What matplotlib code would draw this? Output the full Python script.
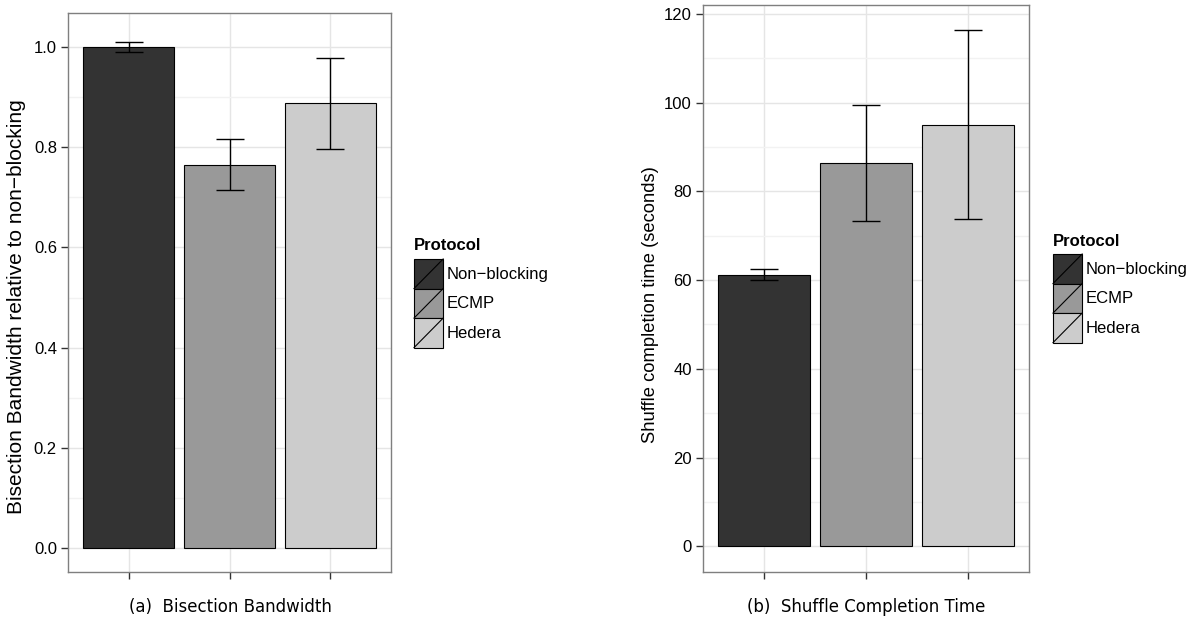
import matplotlib

matplotlib.use("Agg")
import matplotlib.pyplot as plt
from matplotlib.legend_handler import HandlerBase
from matplotlib.lines import Line2D
from matplotlib.patches import Rectangle
from matplotlib.ticker import MultipleLocator

protocols = ["Non\u2212blocking", "ECMP", "Hedera"]
colors = ["#333333", "#999999", "#cccccc"]

bisection_mean = [1.0, 0.765, 0.888]
bisection_err = [0.01, 0.051, 0.091]

shuffle_mean = [61.2, 86.4, 95.0]
shuffle_err = [1.2, 13.1, 21.3]

TICK_FONT = "Liberation Sans"
W, H = 1197, 644


class DiagonalKeyHandler(HandlerBase):
    # ggplot-style legend key: filled square with a diagonal stroke
    def create_artists(self, legend, orig_handle, xdescent, ydescent,
                       width, height, fontsize, trans):
        x0, y0 = -xdescent, -ydescent
        rect = Rectangle((x0, y0), width, height,
                         facecolor=orig_handle.get_facecolor(),
                         edgecolor="black", linewidth=0.8, transform=trans)
        line = Line2D([x0, x0 + width], [y0, y0 + height],
                      color="black", linewidth=0.8, transform=trans)
        return [rect, line]


def style_axes(ax, major, minor):
    ax.set_facecolor("white")
    for side in ax.spines.values():
        side.set_color("#7f7f7f")
        side.set_linewidth(1.0)
    ax.yaxis.set_major_locator(MultipleLocator(major))
    ax.yaxis.set_minor_locator(MultipleLocator(minor))
    ax.grid(which="major", color="#e5e5e5", linewidth=1.0)
    ax.grid(which="minor", axis="y", color="#f2f2f2", linewidth=1.0)
    ax.set_axisbelow(True)
    ax.tick_params(axis="y", which="minor", length=0)
    ax.tick_params(axis="both", which="major", length=5, width=1.0,
                   color="#333333", labelsize=12, pad=3)
    ax.set_xticks([1, 2, 3])
    ax.set_xticklabels([])
    ax.set_xlim(0.4, 3.6)
    for lab in ax.get_yticklabels():
        lab.set_fontfamily(TICK_FONT)


def draw_panel(ax, means, errs):
    x = [1, 2, 3]
    ax.bar(x, means, width=0.9, color=colors, edgecolor="black",
           linewidth=0.8, zorder=2)
    ax.errorbar(x, means, yerr=errs, fmt="none", ecolor="black",
                elinewidth=1.0, capsize=10, capthick=1.0, zorder=3)


def add_legend(fig, x_px, keys_top_px, title_y_px):
    handles = [Rectangle((0, 0), 1, 1, facecolor=c) for c in colors]
    fig.legend(handles, protocols, loc="upper left",
               bbox_to_anchor=(x_px / W, 1 - keys_top_px / H),
               bbox_transform=fig.transFigure, frameon=False,
               handler_map={Rectangle: DiagonalKeyHandler()},
               handlelength=1.75, handleheight=2.35, handletextpad=0.2,
               labelspacing=0.0, borderpad=0.0, borderaxespad=0.0,
               prop={"family": TICK_FONT, "size": 12})
    fig.text(x_px / W, 1 - title_y_px / H, "Protocol", ha="left",
             va="center", family=TICK_FONT, fontsize=12, fontweight="bold")


fig = plt.figure(figsize=(W / 100, H / 100), dpi=100)

ax_a = fig.add_axes([68 / W, 72 / H, 323 / W, 559 / H])
draw_panel(ax_a, bisection_mean, bisection_err)
ax_a.set_ylim(-0.048, 1.068)
style_axes(ax_a, 0.2, 0.1)
ax_a.yaxis.set_major_formatter(lambda v, p: f"{v:.1f}")
ax_a.set_ylabel("Bisection Bandwidth relative to non\u2212blocking",
                family=TICK_FONT, fontsize=15)
ax_a.yaxis.set_label_coords(-42 / 323, 0.475)

ax_b = fig.add_axes([703 / W, 72 / H, 326 / W, 567.3 / H])
draw_panel(ax_b, shuffle_mean, shuffle_err)
ax_b.set_ylim(-5.8, 122.1)
style_axes(ax_b, 20, 10)
ax_b.set_ylabel("Shuffle completion time (seconds)",
                family=TICK_FONT, fontsize=13.2)
ax_b.yaxis.set_label_coords(-44 / 326, 0.472)

add_legend(fig, 414, 259, 246)
add_legend(fig, 1053, 254, 241)

fig.text(230 / W, 1 - 607 / H, "(a)  Bisection Bandwidth",
         ha="center", va="center", fontsize=12)
fig.text(866 / W, 1 - 607 / H, "(b)  Shuffle Completion Time",
         ha="center", va="center", fontsize=12)

fig.savefig("out.png", dpi=100)
plt.close(fig)
